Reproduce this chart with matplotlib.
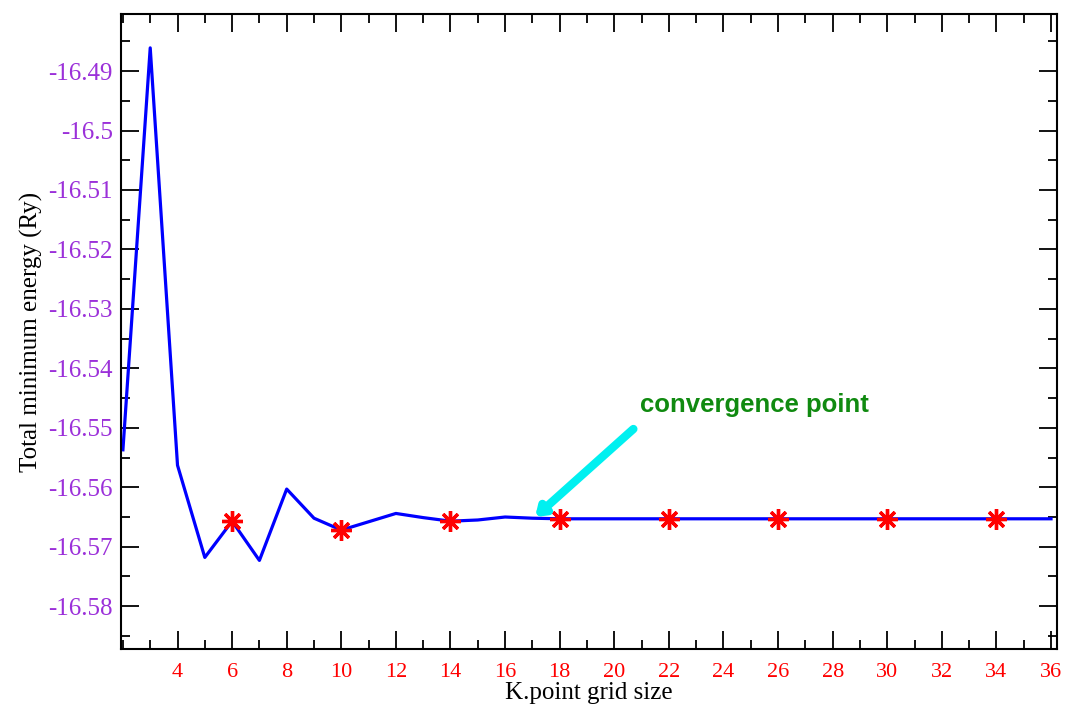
import matplotlib.pyplot as plt
from matplotlib.ticker import MultipleLocator, FixedLocator, FuncFormatter

# k-point grid size vs total energy (Ry)
kgrid = [2, 3, 4, 5, 6, 7, 8, 9, 10, 11, 12, 13, 14, 15, 16, 17, 18, 19, 20,
         21, 22, 23, 24, 25, 26, 27, 28, 29, 30, 31, 32, 33, 34, 35, 36]
energy = [-16.5537, -16.4861, -16.5563, -16.5718, -16.5657, -16.5723, -16.5603,
          -16.5652, -16.5672, -16.5658, -16.5644, -16.5651, -16.5657, -16.5655,
          -16.5650, -16.5652, -16.5653, -16.5653, -16.5653, -16.5653, -16.5653,
          -16.5653, -16.5653, -16.5653, -16.5653, -16.5653, -16.5653, -16.5653,
          -16.5653, -16.5653, -16.5653, -16.5653, -16.5653, -16.5653, -16.5653]
star_k = [6, 10, 14, 18, 22, 26, 30, 34]
star_e = [-16.5657, -16.5672, -16.5657, -16.5653, -16.5653, -16.5653,
          -16.5653, -16.5653]

serif = ['Liberation Serif', 'DejaVu Serif']

fig = plt.figure(figsize=(10.69, 7.09), dpi=100)
ax = fig.add_axes([0.1132, 0.0846, 0.8756, 0.8957])

ax.plot(kgrid, energy, color='#0000ff', lw=2.3, zorder=2)
ax.plot(star_k, star_e, linestyle='none', marker=(8, 2, 0), markersize=15,
        markeredgewidth=2.4, color='#ff0000', zorder=3)

ax.annotate('', xy=(17.1, -16.5650), xytext=(20.7, -16.5502),
            arrowprops=dict(arrowstyle='-|>,head_length=0.5,head_width=0.35',
                            color='#00f0f0', lw=6, shrinkA=0, shrinkB=0))
ax.text(20.95, -16.5462, 'convergence point', color='#108a10', fontsize=18.5,
        fontweight='bold', family=['Liberation Sans', 'DejaVu Sans'],
        va='center', ha='left')

ax.set_xlim(1.93, 36.22)
ax.set_ylim(-16.5872, -16.4804)

ax.xaxis.set_major_locator(FixedLocator(range(4, 37, 2)))
ax.xaxis.set_minor_locator(MultipleLocator(1))
ax.yaxis.set_major_locator(MultipleLocator(0.01))
ax.yaxis.set_minor_locator(MultipleLocator(0.005))
ax.yaxis.set_major_formatter(FuncFormatter(lambda v, p: ('%.2f' % v).rstrip('0')))

ax.tick_params(which='both', direction='in', top=True, right=True, width=1.3)
ax.tick_params(which='major', length=13)
ax.tick_params(which='minor', length=6.5)
ax.tick_params(axis='x', which='major', labelsize=16, labelcolor='#ff0000', pad=10)
ax.tick_params(axis='y', which='major', labelsize=18, labelcolor='#9b30d9', pad=6)
for lab in ax.get_xticklabels() + ax.get_yticklabels():
    lab.set_family(serif)

for s in ax.spines.values():
    s.set_linewidth(1.5)

ax.set_xlabel('K.point grid size', fontsize=18, family=serif, labelpad=0)
ax.set_ylabel('Total minimum energy (Ry)', fontsize=18, family=serif, labelpad=4)

fig.savefig('out.png', dpi=100)
